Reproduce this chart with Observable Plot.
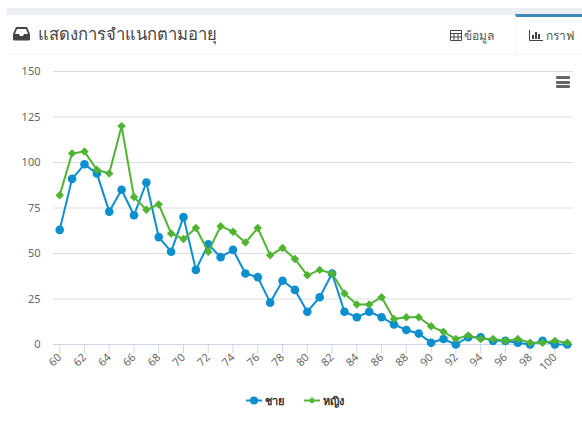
<!DOCTYPE html>
<html><head><meta charset="utf-8">
<script src="https://cdn.jsdelivr.net/npm/d3@7"></script>
<script src="https://cdn.jsdelivr.net/npm/@observablehq/plot@0.6"></script>
<style>
html,body{margin:0;padding:0;background:#fff;width:582px;height:421px;overflow:hidden;font-family:"Noto Sans","Open Sans",sans-serif;color:#333}
#page{position:relative;width:582px;height:421px}
#topbar{position:absolute;left:7px;right:0;top:8px;height:7px;background:#ecf0f5}
#head{position:absolute;left:7px;right:0;top:15px;height:39px;border-bottom:1px solid #f4f4f4}
#title{position:absolute;left:38px;top:22px;font-size:16.6px;line-height:24px;color:#444}
.tab{position:absolute;font-size:12px;line-height:18px;color:#555;top:27px}
#active{position:absolute;left:515px;right:0;top:14px;height:41px;border-top:3px solid #3c8dbc;box-sizing:border-box;border-left:1px solid #f4f4f4}
.ic{position:absolute}
#chart{position:absolute;left:0;top:55px}
#chart svg{display:block;background:transparent}
#menu{position:absolute;left:556px;top:76px;width:14px}
#menu i{display:block;height:3px;background:#666;margin-bottom:1.5px;border-radius:1px}
#legend{position:absolute;top:392px;left:0;width:582px;height:18px;font-size:11px;font-weight:700;color:#333}
.lg{position:absolute;top:0;line-height:17px}
</style></head><body>
<div id="page">
<div id="topbar"></div>
<div id="head"></div>
<div id="active"></div>
<svg class="ic" style="left:13px;top:26px" width="17" height="15" viewBox="0 0 17 15"><path d="M3 1h11l3 7v5a1.500 1.500 0 0 1-1.500 1.500h-14A1.500 1.500 0 0 1 0 13V8z" fill="#444"/><path d="M4 3h9l2 5h-4l-1 2H7L6 8H2z" fill="#fff"/></svg>
<div id="title">แสดงการจำแนกตามอายุ</div>
<svg class="ic" style="left:450px;top:30px" width="12" height="11" viewBox="0 0 12 11"><path d="M.5.5h11v10H.5zM.5 3.500h11M.5 7h11M4 3.500V10.500M8 3.500V10.500" fill="none" stroke="#444"/></svg>
<div class="tab" style="left:464px">ข้อมูล</div>
<svg class="ic" style="left:529px;top:30px" width="14" height="11" viewBox="0 0 14 11"><path d="M.5 0v10.500H14" fill="none" stroke="#444"/><path d="M3 5h2v4H3zM6 2h2v7H6zM9 4h2v5H9z" fill="#444"/></svg>
<div class="tab" style="left:546px">กราฟ</div>
<div id="chart"></div>
<div id="menu"><i></i><i></i><i></i></div>
<div id="legend"></div>
</div>
<script>
const ages = [60,61,62,63,64,65,66,67,68,69,70,71,72,73,74,75,76,77,78,79,80,81,82,83,84,85,86,87,88,89,90,91,92,93,94,95,96,97,98,99,100,101];
const male = [63,91,99,94,73,85,71,89,59,51,70,41,55,48,52,39,37,23,35,30,18,26,39,18,15,18,15,11,8,6,1,3,0,4,4,2,2,1,0,2,0,0];
const female = [82,105,106,96,94,120,81,74,77,61,58,64,51,65,62,56,64,49,53,47,38,41,39,28,22,22,26,14,15,15,10,7,3,5,3,3,2,3,1,1,2,1];
const yTicks = [0,25,50,75,100,125,150];
const xTicks = [60,62,64,66,68,70,72,74,76,78,80,82,84,86,88,90,92,94,96,98,100];
const maleName = "ชาย", femaleName = "หญิง";
const maleColor = "#0c8fcf", femaleColor = "#50b432";

const mk = (ys) => ages.map((a,i)=>({age:a,v:ys[i]}));
const m = mk(male), f = mk(female);

const chart = Plot.plot({
  width:582, height:330,
  marginLeft:53, marginRight:9, marginTop:16, marginBottom:41,
  style:{fontFamily:'"Noto Sans","Open Sans",sans-serif',fontSize:"11px",background:"transparent"},
  x:{domain:[59.5,101.5],label:null},
  y:{domain:[0,150],label:null},
  marks:[
    Plot.ruleY(yTicks.filter(d=>d>0),{stroke:"#dedede",strokeWidth:1}),
    Plot.ruleY([0],{stroke:"#ccd6eb",strokeWidth:1}),
    Plot.axisY({ticks:yTicks,tickSize:0,tickPadding:13,fill:"#666",label:null,fontSize:11}),
    Plot.axisX({ticks:xTicks,tickSize:9,tickPadding:2,tickRotate:-45,stroke:"#ccd6eb",fill:"#666",label:null,fontSize:11,tickFormat:d=>String(d)}),
    Plot.line(m,{x:"age",y:"v",stroke:maleColor,strokeWidth:2}),
    Plot.dot(m,{x:"age",y:"v",fill:maleColor,r:4.3,symbol:"circle"}),
    Plot.line(f,{x:"age",y:"v",stroke:femaleColor,strokeWidth:2}),
    Plot.dot(f,{x:"age",y:"v",fill:femaleColor,r:3.8,symbol:"diamond2"})
  ]
});
document.getElementById("chart").appendChild(chart);

const lg = document.getElementById("legend");
function item(left,color,sym,name){
  const d=document.createElement("div");d.className="lg";d.style.left=left+"px";
  const shape = sym==="c" ? `<circle cx="8" cy="8.500" r="4" fill="${color}"/>` : `<path d="M8 5l3 3.500-3 3.500-3-3.500z" fill="${color}"/>`;
  d.innerHTML=`<svg width="16" height="17" style="position:absolute;left:0;top:0"><path d="M0 8.500h16" stroke="${color}" stroke-width="2"/>${shape}</svg><span style="position:absolute;left:19px;white-space:nowrap">${name}</span>`;
  lg.appendChild(d);
}
item(246,maleColor,"c",maleName);
item(304,femaleColor,"d",femaleName);
</script>
</body></html>
